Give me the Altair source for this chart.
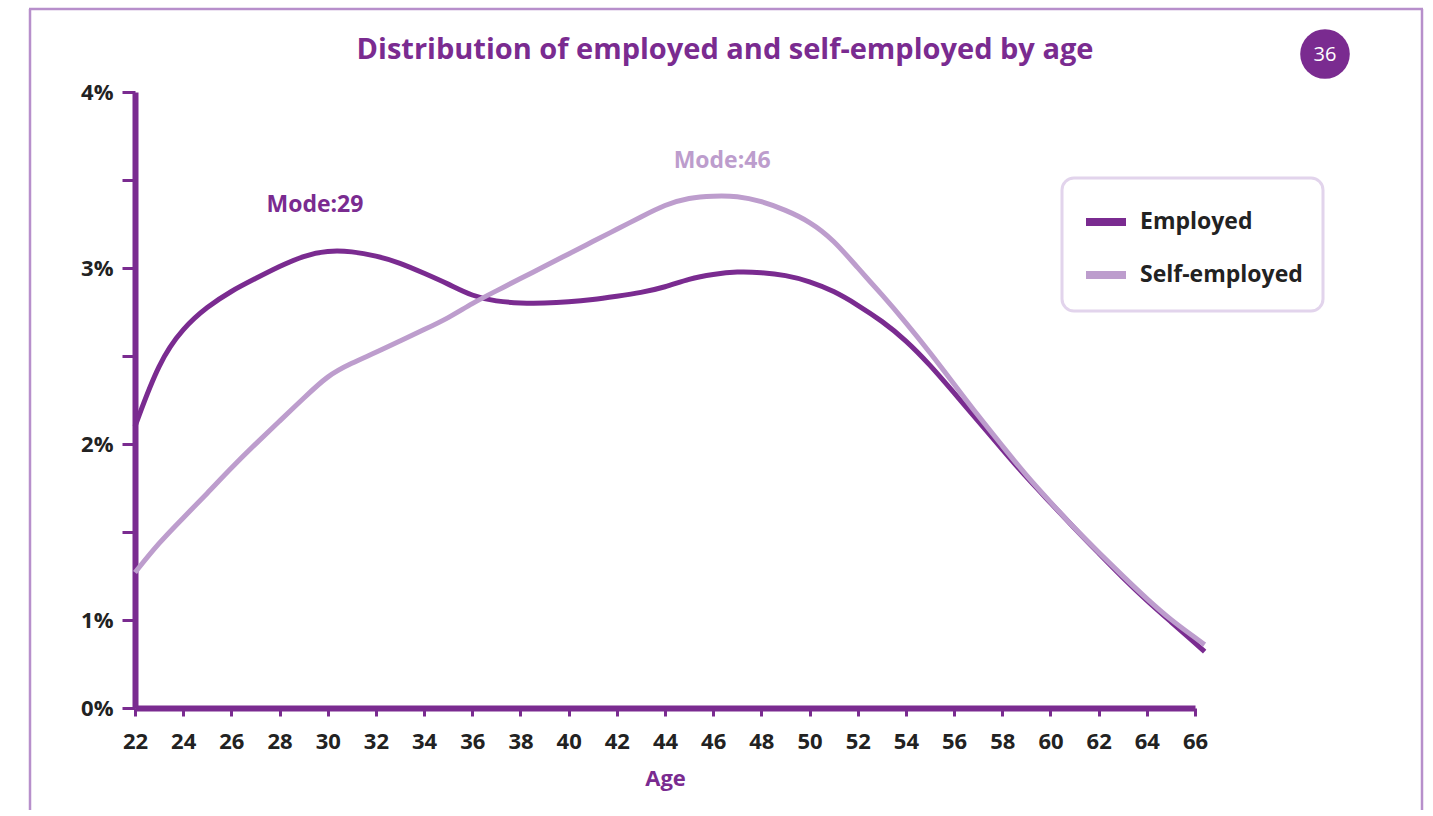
import altair as alt
import pandas as pd

ages = [22, 23, 24, 25, 26, 27, 28, 29, 30, 31, 32, 33, 34, 35, 36, 37, 38, 39, 40,
        41, 42, 43, 44, 45, 46, 47, 48, 49, 50, 51, 52, 53, 54, 55, 56, 57, 58, 59,
        60, 61, 62, 63, 64, 65, 66, 66.4]
employed = [2.10, 2.47, 2.66, 2.78, 2.87, 2.94, 3.01, 3.07, 3.10, 3.095, 3.07, 3.03,
            2.97, 2.91, 2.84, 2.81, 2.80, 2.80, 2.807, 2.82, 2.84, 2.86, 2.89, 2.94,
            2.965, 2.98, 2.975, 2.96, 2.925, 2.87, 2.79, 2.70, 2.59, 2.45, 2.29, 2.13,
            1.97, 1.81, 1.667, 1.52, 1.38, 1.24, 1.11, 0.99, 0.87, 0.82]
self_employed = [1.27, 1.44, 1.58, 1.72, 1.865, 2.00, 2.13, 2.26, 2.39, 2.46, 2.52, 2.585,
                 2.65, 2.715, 2.80, 2.87, 2.94, 3.01, 3.08, 3.15, 3.22, 3.29, 3.36, 3.40,
                 3.41, 3.41, 3.38, 3.33, 3.265, 3.16, 3.00, 2.85, 2.69, 2.52, 2.34, 2.16,
                 1.99, 1.82, 1.67, 1.52, 1.385, 1.25, 1.12, 1.00, 0.90, 0.86]
series_names = ["Employed", "Self-employed"]
series_colors = ["#7a2b90", "#bd9dcd"]

mode_labels = ["Mode:29", "Mode:46"]
mode_ages = [29.47, 46.37]
mode_values = [3.36, 3.61]
mode_colors = ["#7a2b90", "#bd9dcd"]

x_ticks = list(range(22, 67))
y_ticks = [0.5, 1, 1.5, 2, 2.5, 3, 3.5, 4]

PURPLE = "#7a2b90"
FONT = "Open Sans"

rows = []
for a, e, s in zip(ages, employed, self_employed):
    rows.append({"age": a, "value": e, "series": series_names[0]})
    rows.append({"age": a, "value": s, "series": series_names[1]})
df = pd.DataFrame(rows)

ann = pd.DataFrame({"label": mode_labels, "age": mode_ages, "value": mode_values, "c": mode_colors})
one = pd.DataFrame({"a": [0]})

x_scale = alt.Scale(domain=[22, 66], nice=False, zero=False)
y_scale = alt.Scale(domain=[0.5, 4], nice=False, zero=False)

lines = alt.Chart(df).mark_line(strokeWidth=5, interpolate="basis").encode(
    x=alt.X("age:Q", scale=x_scale, title="Age",
            axis=alt.Axis(values=x_ticks, labelExpr="datum.value % 2 == 0 ? datum.value : ''",
                          tickSize=8, tickWidth=3, labelPadding=15, titlePadding=16,
                          grid=False, labelFlush=False)),
    y=alt.Y("value:Q", scale=y_scale, title=None,
            axis=alt.Axis(values=y_ticks,
                          labelExpr="datum.value == 0.5 ? '0%' : (datum.value % 1 == 0 ? datum.value + '%' : '')",
                          tickSize=13, tickWidth=3, labelPadding=9, grid=False, labelFlush=False)),
    color=alt.Color("series:N", scale=alt.Scale(domain=series_names, range=series_colors),
                    legend=alt.Legend(orient="none", legendX=927, legendY=86, title=None,
                                      symbolType="stroke", symbolSize=1600, symbolStrokeWidth=8,
                                      labelFontSize=23, labelFont=FONT, labelFontWeight="bold",
                                      labelColor="#222222", labelOffset=10, labelLimit=400,
                                      rowPadding=13, padding=20, cornerRadius=12,
                                      strokeColor="#e2d4ec")),
)

notes = alt.Chart(ann).mark_text(fontSize=23, fontWeight="bold", font=FONT).encode(
    x=alt.X("age:Q", scale=x_scale),
    y=alt.Y("value:Q", scale=y_scale),
    text="label:N",
    color=alt.Color("c:N", scale=None),
)

title = alt.Chart(one).mark_text(fontSize=29, fontWeight="bold", font=FONT, color=PURPLE,
                                 align="center", baseline="middle").encode(
    x=alt.value(590), y=alt.value(-42),
    text=alt.value("Distribution of employed and self-employed by age"))

badge = alt.Chart(one).mark_circle(opacity=1, color=PURPLE).encode(
    x=alt.value(1190), y=alt.value(-38), size=alt.value(2460))
badge_text = alt.Chart(one).mark_text(fontSize=20, font=FONT, color="white",
                                      align="center", baseline="middle").encode(
    x=alt.value(1190), y=alt.value(-37), text=alt.value("36"))

frame_color = "#b78fcb"
frame_left = alt.Chart(one).mark_rule(color=frame_color, strokeWidth=2.5).encode(
    x=alt.value(-105), y=alt.value(-83), y2=alt.value(740))
frame_top = alt.Chart(one).mark_rule(color=frame_color, strokeWidth=2.5).encode(
    x=alt.value(-106), x2=alt.value(1288), y=alt.value(-83))
frame_right = alt.Chart(one).mark_rule(color=frame_color, strokeWidth=2.5).encode(
    x=alt.value(1287), y=alt.value(-83), y2=alt.value(740))

chart = alt.layer(frame_left, frame_top, frame_right, lines, notes, title, badge, badge_text).properties(
    width=1060, height=616,
    autosize=alt.AutoSizeParams(type="none"),
    padding={"left": 135, "top": 92, "right": 230, "bottom": 102},
).configure_view(stroke=None).configure_axis(
    domainColor=PURPLE, domainWidth=6, tickColor=PURPLE,
    labelFont=FONT, labelFontSize=22, labelFontWeight="bold", labelColor="#222222",
    titleFont=FONT, titleFontSize=22, titleFontWeight="bold", titleColor=PURPLE,
).configure_legend(strokeWidth=3)

chart.save("out.html", embed_options={"renderer": "svg", "actions": False})
